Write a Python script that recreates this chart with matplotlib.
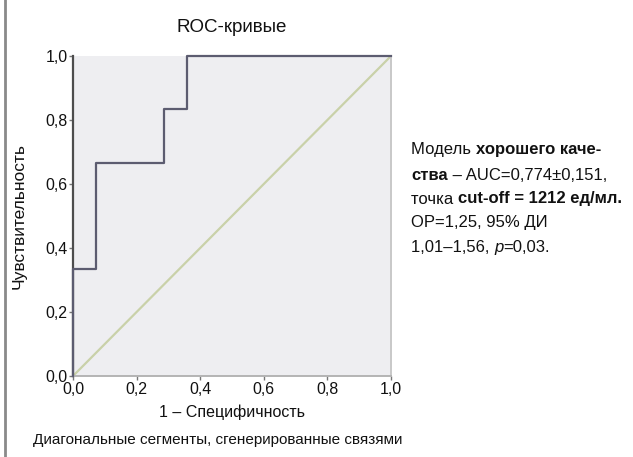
import matplotlib.pyplot as plt
from matplotlib.lines import Line2D

plt.rcParams['font.family'] = ['Liberation Sans', 'DejaVu Sans']

# ROC curve points (1 - specificity, sensitivity)
fpr = [0.0, 0.0, 1 / 14, 1 / 14, 4 / 14, 4 / 14, 5 / 14, 5 / 14, 1.0]
tpr = [0.0, 1 / 3, 1 / 3, 2 / 3, 2 / 3, 5 / 6, 5 / 6, 1.0, 1.0]
ref_line = [0.0, 1.0]
ticks = [0.0, 0.2, 0.4, 0.6, 0.8, 1.0]
tick_labels = ['0,0', '0,2', '0,4', '0,6', '0,8', '1,0']

fig = plt.figure(figsize=(6.33, 4.57), dpi=100)
ax = fig.add_axes([0.1153, 0.1772, 0.5024, 0.7003])
ax.set_facecolor('#eeeef1')

ax.plot(ref_line, ref_line, color='#c9d1a9', lw=1.6, zorder=2)
ax.plot(fpr, tpr, color='#5c5c70', lw=1.6, zorder=3, clip_on=False)

ax.set_xlim(0, 1)
ax.set_ylim(0, 1)
ax.set_xticks(ticks)
ax.set_xticklabels(tick_labels)
ax.set_yticks(ticks)
ax.set_yticklabels(tick_labels)
ax.tick_params(direction='out', length=3, width=1, color='#777777',
               labelsize=11.5, pad=1, labelcolor='#111111')

ax.spines['left'].set_color('#4d4d4d')
ax.spines['left'].set_linewidth(1.6)
ax.spines['bottom'].set_color('#b4b4b4')
ax.spines['bottom'].set_linewidth(1.4)
ax.spines['right'].set_color('#c8c8c8')
ax.spines['right'].set_linewidth(1.4)
ax.spines['top'].set_visible(False)

ax.set_title('ROC-кривые', fontsize=13.5, pad=17, color='#111111')
ax.set_xlabel('1 – Специфичность', fontsize=11.5, labelpad=6, color='#111111')
ax.set_ylabel('Чувствительность', fontsize=12.5, labelpad=13, color='#111111')

fig.text(33 / 633, 1 - 440 / 457, 'Диагональные сегменты, сгенерированные связями',
         fontsize=11, va='center', ha='left', color='#111111')

# annotation block on the right
x0 = 411 / 633
lines_y = [150, 175, 199, 223, 247]
txt = [
    [('Модель ', 'normal', 'normal'), ('хорошего каче-', 'bold', 'normal')],
    [('ства', 'bold', 'normal'), (' – AUC=0,774±0,151,', 'normal', 'normal')],
    [('точка ', 'normal', 'normal'), ('cut-off = 1212 ед/мл.', 'bold', 'normal')],
    [('ОР=1,25, 95% ДИ', 'normal', 'normal')],
    [('1,01–1,56, ', 'normal', 'normal'), ('p', 'normal', 'italic'), ('=0,03.', 'normal', 'normal')],
]
fig.canvas.draw()
renderer = fig.canvas.get_renderer()
for row, yp in zip(txt, lines_y):
    x = x0
    for s, w, st in row:
        t = fig.text(x, 1 - yp / 457, s, fontsize=12, fontweight=w, fontstyle=st,
                     va='center', ha='left', color='#111111')
        bb = t.get_window_extent(renderer=renderer)
        x += bb.width / fig.bbox.width

# gray rule at the left edge
fig.add_artist(Line2D([5 / 633, 5 / 633], [0, 1], color='#8a8a8a', lw=2))

fig.savefig('out.png', dpi=100)
